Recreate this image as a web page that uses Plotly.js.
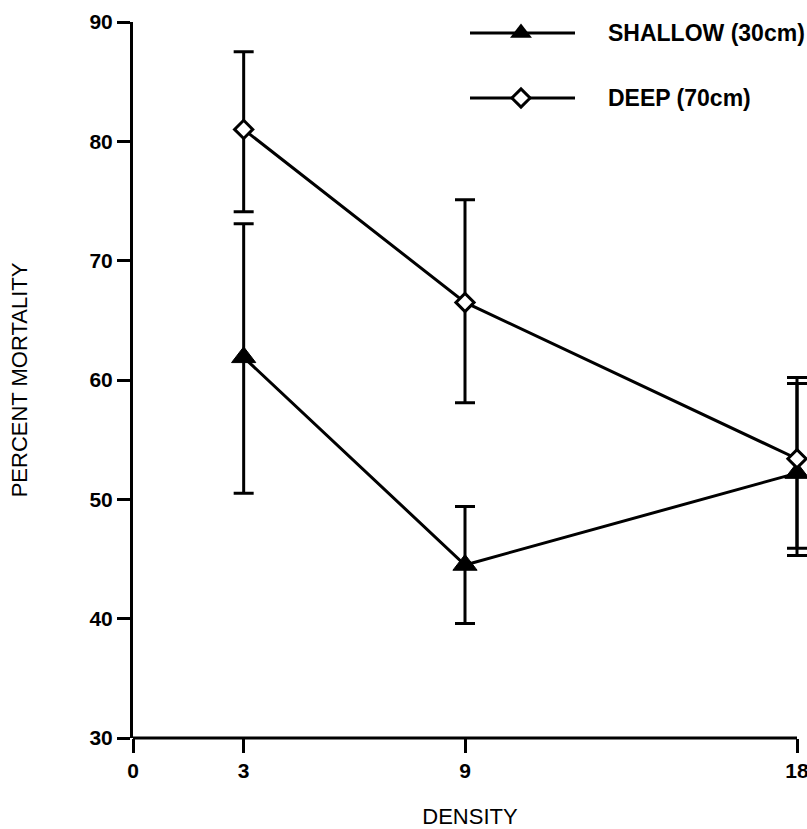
<!DOCTYPE html>
<html>
<head>
<meta charset="utf-8">
<script src="https://cdn.plot.ly/plotly-3.0.1.min.js"></script>
<style>
html,body{margin:0;padding:0;background:#fff;}
#chart{width:807px;height:829px;}
</style>
</head>
<body>
<div id="chart"></div>
<script>
// ---- data ----
const density = [3, 9, 18];
const shallowMean = [61.9, 44.5, 52.2];
const shallowErrPlus = [11.2, 4.9, 7.5];
const shallowErrMinus = [11.4, 4.9, 6.9];
const deepMean = [81.0, 66.5, 53.4];
const deepErrPlus = [6.5, 8.6, 6.8];
const deepErrMinus = [6.9, 8.4, 7.5];
const xTicks = [0, 3, 9, 18];
const yTicks = [30, 40, 50, 60, 70, 80, 90];
const seriesNames = ["SHALLOW (30cm)", "DEEP (70cm)"];

const FONT = "Liberation Sans, Arial, Helvetica, sans-serif";

// geometry (pixels): axis from x=0 at L to x=18 at AX_END; plot area runs to the page edge
const L = 133, AX_END = 797, T = 22, B = 738;
const W = 807, H = 829;
const xMax = 18, xRangeMax = xMax * (W - L) / (AX_END - L);
const px = x => (x - L) / (W - L);
const py = y => (B - y) / (B - T);

// legend layout (pixel positions)
const legRows = [33, 98];
const legX0 = 470, legX1 = 575, legMark = 521, legText = 606;

const shallow = {
  x: density, y: shallowMean, type: "scatter", mode: "lines+markers",
  name: seriesNames[0], cliponaxis: false,
  line: {color: "#000", width: 3},
  marker: {symbol: "triangle-up", size: 21, color: "#000", line: {color: "#000", width: 1}},
  error_y: {type: "data", symmetric: false, array: shallowErrPlus, arrayminus: shallowErrMinus,
            color: "#000", thickness: 3, width: 10}
};
const deep = {
  x: density, y: deepMean, type: "scatter", mode: "lines+markers",
  name: seriesNames[1], cliponaxis: false,
  line: {color: "#000", width: 3},
  marker: {symbol: "diamond", size: 14, color: "#fff", line: {color: "#000", width: 3}},
  error_y: {type: "data", symmetric: false, array: deepErrPlus, arrayminus: deepErrMinus,
            color: "#000", thickness: 3, width: 10}
};
// legend symbols on an overlay paper-like axis
const legShallow = {
  x: [px(legMark)], y: [py(legRows[0])], xaxis: "x2", yaxis: "y2", type: "scatter", mode: "markers",
  showlegend: false, hoverinfo: "skip", cliponaxis: false,
  marker: {symbol: "triangle-up", size: 19, color: "#000"}
};
const legDeep = {
  x: [px(legMark)], y: [py(legRows[1])], xaxis: "x2", yaxis: "y2", type: "scatter", mode: "markers",
  showlegend: false, hoverinfo: "skip", cliponaxis: false,
  marker: {symbol: "diamond", size: 14, color: "#fff", line: {color: "#000", width: 3}}
};

const tickFont = {family: FONT, size: 21, color: "#000", weight: "bold"};
const titleFont = {family: FONT, size: 22, color: "#000"};

const legendShapes = legRows.map(r => ({
  type: "line", xref: "paper", yref: "paper",
  x0: px(legX0), x1: px(legX1), y0: py(r), y1: py(r),
  line: {color: "#000", width: 3}, layer: "below"
}));
// x-axis baseline from 0 to 18
const axisShape = {
  type: "line", xref: "x", yref: "paper", x0: 0, x1: xMax, y0: 0, y1: 0,
  line: {color: "#000", width: 3}, layer: "above"
};

const layout = {
  width: W, height: H,
  margin: {l: L, r: 0, t: T, b: H - B},
  paper_bgcolor: "#fff", plot_bgcolor: "#fff",
  showlegend: false,
  font: {family: FONT, color: "#000", size: 19},
  xaxis: {
    range: [0, xRangeMax], tickmode: "array", tickvals: xTicks, ticktext: xTicks.map(String),
    showgrid: false, zeroline: false, showline: false,
    ticks: "outside", ticklen: 14, tickwidth: 3, tickcolor: "#000",
    ticklabeloverflow: "allow",
    tickfont: tickFont,
    title: {text: "DENSITY", font: titleFont, standoff: 36}
  },
  yaxis: {
    range: [30, 90], tickmode: "array", tickvals: yTicks, ticktext: yTicks.map(String),
    showgrid: false, zeroline: false, showline: true, linecolor: "#000", linewidth: 3,
    ticks: "outside", ticklen: 13, tickwidth: 3, tickcolor: "#000",
    ticklabeloverflow: "allow",
    tickfont: tickFont,
    title: {text: "PERCENT MORTALITY", font: titleFont, standoff: 56}
  },
  xaxis2: {overlaying: "x", range: [0, 1], visible: false, fixedrange: true},
  yaxis2: {overlaying: "y", range: [0, 1], visible: false, fixedrange: true},
  shapes: legendShapes.concat([axisShape]),
  annotations: legRows.map((r, i) => ({
    xref: "paper", yref: "paper", x: px(legText), y: py(r),
    xanchor: "left", yanchor: "middle", showarrow: false,
    text: seriesNames[i], font: {family: FONT, size: 23, color: "#000", weight: "bold"}
  }))
};

Plotly.newPlot("chart", [shallow, deep, legShallow, legDeep], layout, {displayModeBar: false, staticPlot: true});
</script>
</body>
</html>
